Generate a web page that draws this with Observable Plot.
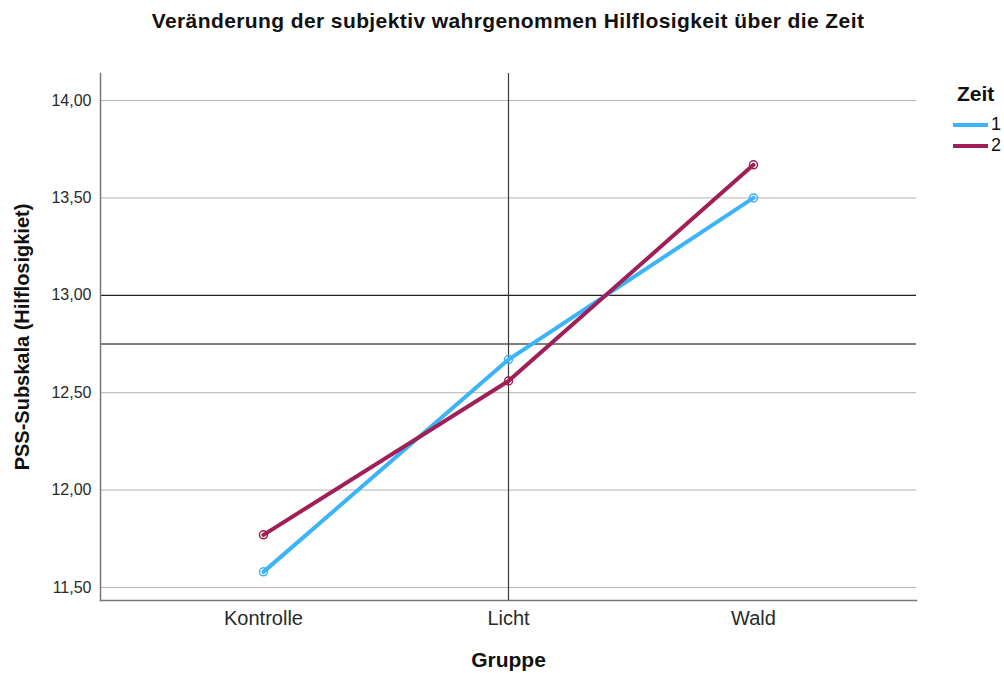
<!DOCTYPE html>
<html>
<head>
<meta charset="utf-8">
<script src="https://cdn.jsdelivr.net/npm/d3@7"></script>
<script src="https://cdn.jsdelivr.net/npm/@observablehq/plot@0.6"></script>
<style>
  body { margin: 0; background: #fff; font-family: "Liberation Sans", Arial, sans-serif; }
  #wrap { position: relative; width: 1004px; height: 673px; overflow: hidden; }
  #title { position: absolute; left: 0; top: 9px; width: 1016px; text-align: center; font-weight: bold; font-size: 21px; letter-spacing: 0.4px; color: #111; }
  #chart { position: absolute; left: 0; top: 45px; }
  #legend { position: absolute; left: 953px; top: 82px; font-size: 18px; color: #111; }
  #legend .t { font-weight: bold; font-size: 21px; margin-left: 4px; margin-bottom: 8px; }
  #legend .row { display: flex; align-items: center; height: 21px; }
  #legend .sw { width: 35px; height: 4px; margin-right: 3px; }
</style>
</head>
<body>
<div id="wrap">
  <div id="title">Veränderung der subjektiv wahrgenommen Hilflosigkeit über die Zeit</div>
  <div id="chart"></div>
  <div id="legend"></div>
</div>
<script>
const groups = ["Kontrolle", "Licht", "Wald"];
const zeitLabels = ["1", "2"];
const zeit1 = [11.58, 12.67, 13.50];
const zeit2 = [11.77, 12.56, 13.67];
const yTicks = [11.5, 12.0, 12.5, 13.0, 13.5, 14.0];
const refY = [13.0, 12.75];
const refX = ["Licht"];
const colors = ["#3bb4f8", "#a11f57"];

const data = [];
groups.forEach((g, i) => {
  data.push({ gruppe: g, zeit: zeitLabels[0], value: zeit1[i] });
  data.push({ gruppe: g, zeit: zeitLabels[1], value: zeit2[i] });
});

const fmt = d => d.toFixed(2).replace(".", ",");

const plot = Plot.plot({
  width: 1004,
  height: 628,
  marginTop: 28,
  marginBottom: 73,
  marginLeft: 100,
  marginRight: 88,
  style: { fontFamily: '"Liberation Sans", Arial, sans-serif', background: "transparent" },
  x: { type: "point", domain: groups, padding: 0.66, label: null },
  y: { domain: [11.433, 14.139], label: null },
  color: { domain: zeitLabels, range: colors },
  marks: [
    Plot.gridY(yTicks, { stroke: "#b4b4b4", strokeOpacity: 1, strokeWidth: 1 }),
    Plot.ruleY(refY, { stroke: "#000", strokeWidth: 1 }),
    Plot.ruleX(refX, { stroke: "#3a3a3a", strokeWidth: 1.2 }),
    Plot.axisY(yTicks, { tickSize: 0, tickPadding: 9, tickFormat: fmt, fontSize: 16, fill: "#2a2a2a", label: null }),
    Plot.axisX({ tickSize: 0, tickPadding: 10, fontSize: 20, fill: "#2a2a2a", label: null }),
    Plot.frame({ anchor: "left", stroke: "#777", strokeWidth: 1.5 }),
    Plot.frame({ anchor: "bottom", stroke: "#777", strokeWidth: 1.5 }),
    Plot.dot(data, { x: "gruppe", y: "value", stroke: "zeit", r: 4, strokeWidth: 1.5, fill: "none" }),
    Plot.line(data, { x: "gruppe", y: "value", stroke: "zeit", z: "zeit", strokeWidth: 4, strokeLinecap: "round" }),
    Plot.text(["Gruppe"], { frameAnchor: "bottom", dy: 66, fontWeight: "bold", fontSize: 21, fill: "#111" }),
    Plot.text(["PSS-Subskala (Hilflosigkiet)"], { frameAnchor: "left", textAnchor: "middle", dx: -78, rotate: -90, fontWeight: "bold", fontSize: 20, fill: "#111" })
  ]
});
document.getElementById("chart").appendChild(plot);

const leg = document.getElementById("legend");
leg.innerHTML = '<div class="t">Zeit</div>' + zeitLabels.map((z, i) =>
  `<div class="row"><div class="sw" style="background:${colors[i]}"></div><span>${z}</span></div>`).join("");
</script>
</body>
</html>
